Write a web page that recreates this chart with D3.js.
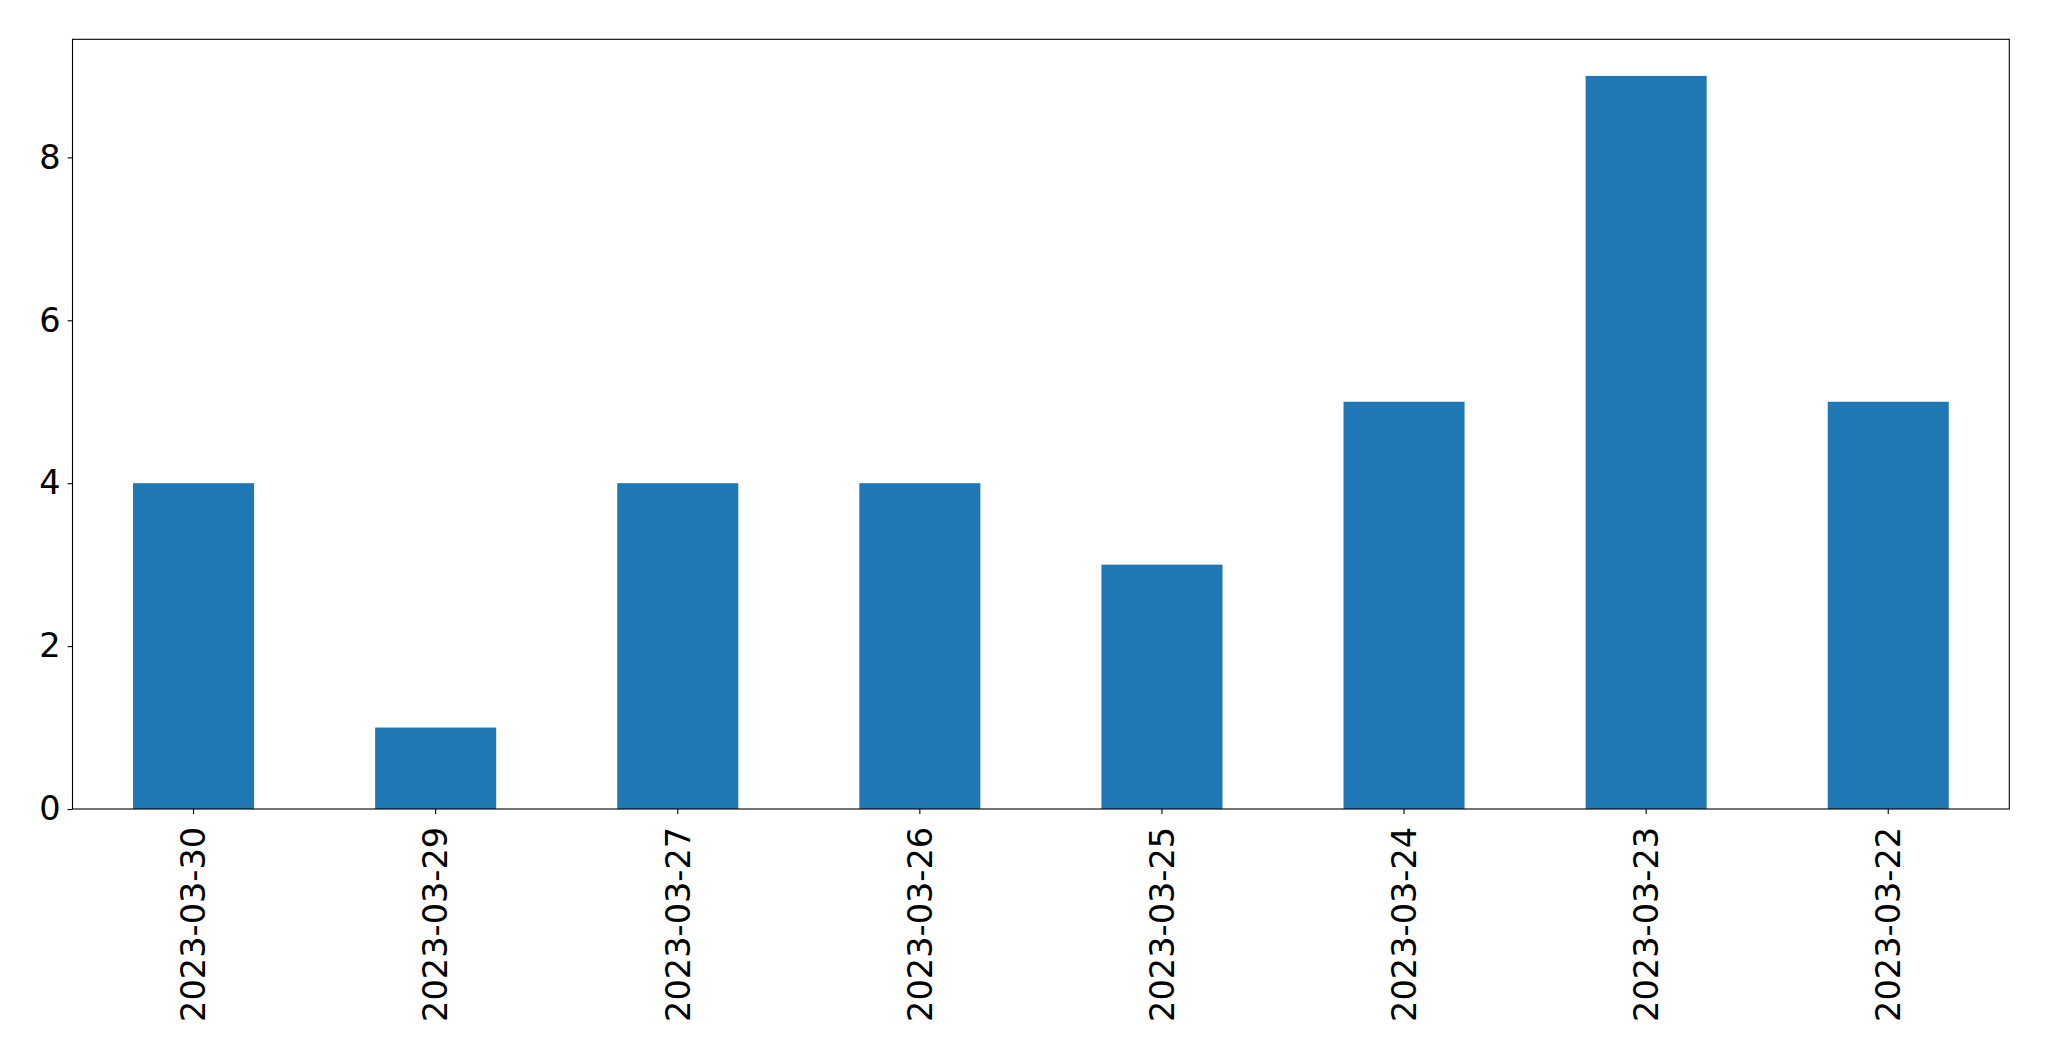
<!DOCTYPE html>
<html>
<head>
<meta charset="utf-8">
<script src="https://cdn.jsdelivr.net/npm/d3@7"></script>
<style>
  body { margin: 0; background: #fff; }
  svg text { font-family: "DejaVu Sans" !important; fill: #000; }
</style>
</head>
<body>
<svg id="chart" width="2049" height="1061" font-family="DejaVu Sans"></svg>
<script>
// data
const dates = ['2023-03-30', '2023-03-29', '2023-03-27', '2023-03-26',
               '2023-03-25', '2023-03-24', '2023-03-23', '2023-03-22'];
const counts = [4, 1, 4, 4, 3, 5, 9, 5];
const yTicks = [0, 2, 4, 6, 8];

/* -------------------------------------------------------------------------- */
const margin = {left: 72.5, right: 2049 - 2009.3, top: 39.3, bottom: 1061 - 809};
const W = 2049, H = 1061;
const fontPx = 33.6, tickLen = 4.9, tickPad = 4.9;

let svg = d3.select('#chart');

let x = d3.scaleBand()
  .domain(dates)
  .range([margin.left, W - margin.right])
  .paddingInner(0.5)
  .paddingOuter(0.25);

let y = d3.scaleLinear()
  .domain([0, d3.max(counts) * 1.05])
  .range([H - margin.bottom, margin.top]);

// bars
svg.append('g')
  .selectAll('rect')
  .data(dates)
  .join('rect')
  .attr('x', d => x(d))
  .attr('width', x.bandwidth())
  .attr('y', (d, i) => y(counts[i]))
  .attr('height', (d, i) => y(0) - y(counts[i]))
  .attr('fill', '#1f77b4');

// frame
svg.append('rect')
  .attr('x', margin.left)
  .attr('y', margin.top)
  .attr('width', W - margin.right - margin.left)
  .attr('height', H - margin.bottom - margin.top)
  .attr('fill', 'none')
  .attr('stroke', '#000')
  .attr('stroke-width', 1.1);

// x axis (labels rotated, hanging under the ticks)
let xAxis = svg.append('g')
  .attr('transform', `translate(0,${H - margin.bottom})`)
  .call(d3.axisBottom(x).tickSizeOuter(0).tickSize(tickLen).tickPadding(tickPad));
xAxis.attr('font-family', null).attr('font-size', null);
xAxis.select('.domain').remove();
xAxis.selectAll('line').attr('stroke-width', 1.1);
xAxis.selectAll('text')
  .style('font-size', fontPx + 'px')
  .attr('y', 0)
  .attr('dy', '0.35em')
  .attr('transform', `translate(0,${tickLen + tickPad + 8}) rotate(-90)`)
  .attr('text-anchor', 'end');

// y axis
let yAxis = svg.append('g')
  .attr('transform', `translate(${margin.left},0)`)
  .call(d3.axisLeft(y).tickValues(yTicks).tickSizeOuter(0).tickSize(tickLen).tickPadding(tickPad + 2));
yAxis.attr('font-family', null).attr('font-size', null);
yAxis.select('.domain').remove();
yAxis.selectAll('line').attr('stroke-width', 1.1);
yAxis.selectAll('text')
  .style('font-size', fontPx + 'px');
</script>
</body>
</html>
